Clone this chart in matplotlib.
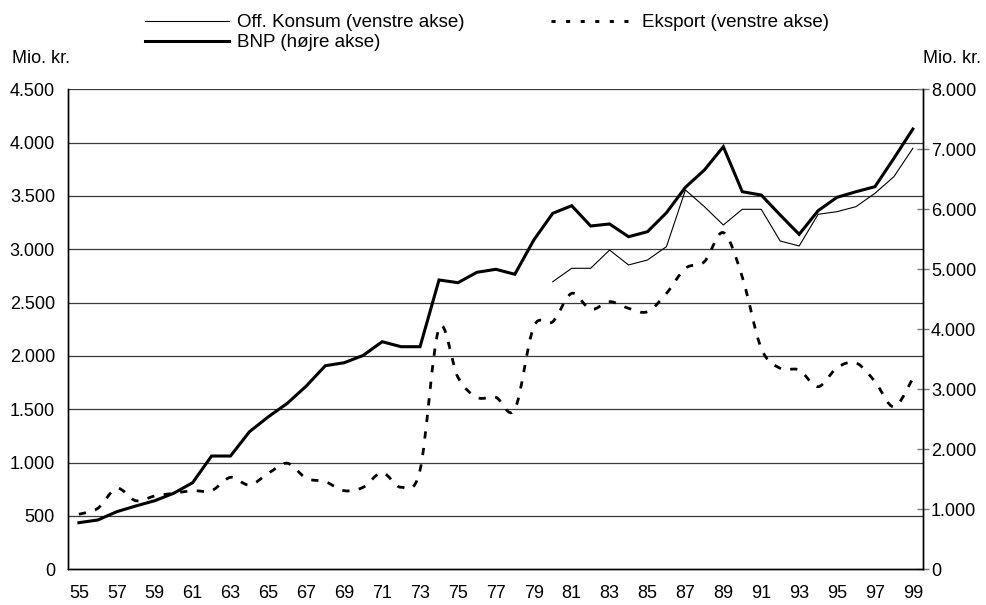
import matplotlib
matplotlib.use("Agg")
import matplotlib.pyplot as plt
from matplotlib.path import Path
from matplotlib.patches import PathPatch
from matplotlib.lines import Line2D
from matplotlib.ticker import FuncFormatter

plt.rcParams['font.family'] = ['Liberation Sans', 'DejaVu Sans']

# ---- data ----
years = list(range(1955, 2000))
tick_years = list(range(1955, 2000, 2))
tick_labels = [str(y)[2:] for y in tick_years]

bnp = [777, 822, 960, 1055, 1143, 1267, 1443, 1888, 1888, 2293,
       2543, 2767, 3055, 3393, 3443, 3565, 3793, 3710, 3710, 4822,
       4777, 4950, 5000, 4917, 5488, 5933, 6060, 5722, 5755, 5543,
       5627, 5943, 6367, 6655, 7043, 6293, 6238, 5905, 5583, 5977,
       6200, 6293, 6377, 6850, 7338]

konsum_years = list(range(1980, 2000))
konsum = [2696, 2822, 2822, 2993, 2853, 2900, 3025, 3556, 3400, 3228,
          3375, 3375, 3078, 3031, 3328, 3353, 3400, 3525, 3681, 3947]

eksport = [516, 572, 759, 643, 687, 712, 737, 737, 862, 790,
           900, 994, 853, 821, 737, 769, 906, 769, 931, 2259,
           1800, 1612, 1612, 1500, 2275, 2321, 2587, 2437, 2509, 2447,
           2415, 2587, 2822, 2884, 3156, 2740, 2072, 1884, 1868, 1712,
           1890, 1935, 1760, 1524, 1790]

left_ticks = list(range(0, 4501, 500))
right_ticks = list(range(0, 8001, 1000))

lab_konsum = "Off. Konsum (venstre akse)"
lab_eksport = "Eksport (venstre akse)"
lab_bnp = "BNP (højre akse)"
unit = "Mio. kr."

FS = 13
FSL = 13.5


def dk(v, pos=None):
    return f"{int(round(v)):,}".replace(",", ".")


def smooth_path(xs, ys):
    n = len(xs)
    verts = [(xs[0], ys[0])]
    codes = [Path.MOVETO]
    for i in range(n - 1):
        x0, y0 = (xs[i - 1], ys[i - 1]) if i > 0 else (xs[i], ys[i])
        x1, y1 = xs[i], ys[i]
        x2, y2 = xs[i + 1], ys[i + 1]
        x3, y3 = (xs[i + 2], ys[i + 2]) if i + 2 < n else (x2, y2)
        c1 = (x1 + (x2 - x0) / 6.0, y1 + (y2 - y0) / 6.0)
        c2 = (x2 - (x3 - x1) / 6.0, y2 - (y3 - y1) / 6.0)
        verts += [c1, c2, (x2, y2)]
        codes += [Path.CURVE4] * 3
    return Path(verts, codes)


W, H = 986, 605
fig = plt.figure(figsize=(W / 100, H / 100), dpi=100)
fig.patch.set_facecolor("white")
x0p, x1p, y0p, y1p = 67.5, 923.3, 89.3, 569.3
ax = fig.add_axes([x0p / W, 1 - y1p / H, (x1p - x0p) / W, (y1p - y0p) / H])
ax2 = ax.twinx()

ax.set_xlim(1954.4, 1999.55)
ax.set_ylim(0, 4500)
ax2.set_ylim(0, 8000)

# grid
for v in left_ticks[1:]:
    ax.axhline(v, color="#3a3a3a", lw=0.9, zorder=1)

# Off. Konsum (thin)
ax.plot(konsum_years, konsum, color="black", lw=0.8, zorder=3, solid_joinstyle="miter")

# Eksport (dashed, smoothed)
dash = (0, (2.6, 3.4))
p = PathPatch(smooth_path(years, eksport), facecolor="none", edgecolor="black",
              lw=2.0, linestyle=dash, zorder=3, capstyle="butt")
ax.add_patch(p)

# BNP (thick) on right axis
ax2.plot(years, bnp, color="black", lw=2.2, zorder=3, solid_joinstyle="miter")

# axes styling
for a in (ax, ax2):
    a.spines["top"].set_visible(False)
    for s in ("left", "right", "bottom"):
        a.spines[s].set_color("black")
        a.spines[s].set_linewidth(1.0)

ax.set_xticks(tick_years)
ax.set_xticklabels(tick_labels)
ax.tick_params(axis="x", length=0, pad=11.5, labelsize=FS)
ax.set_yticks(left_ticks)
ax.yaxis.set_major_formatter(FuncFormatter(dk))
ax.tick_params(axis="y", length=0, pad=9, labelsize=FS)

ax2.set_yticks(right_ticks)
ax2.yaxis.set_major_formatter(FuncFormatter(dk))
ax2.tick_params(axis="y", direction="inout", length=8, width=1, color="#777777",
                pad=1.5, labelsize=FS)

# unit labels
fig.text(12.5 / W, 1 - 58.5 / H, unit, ha="left", va="center", fontsize=FS)
fig.text(981 / W, 1 - 58.5 / H, unit, ha="right", va="center", fontsize=FS)

# legend
h_k = Line2D([], [], color="black", lw=0.8)
h_b = Line2D([], [], color="black", lw=2.2)
h_e = Line2D([], [], color="black", lw=2.1, linestyle=(0, (1.4, 3.6)))
fig.legend([h_k, h_b, h_e], [lab_konsum, lab_bnp, lab_eksport],
           loc="upper left", bbox_to_anchor=(145 / W, 1 - 14 / H),
           ncol=2, frameon=False, fontsize=FSL, borderpad=0, borderaxespad=0,
           labelspacing=0.15, handlelength=4.5, handletextpad=0.4,
           columnspacing=4.6)

fig.savefig("out.png", dpi=100)
